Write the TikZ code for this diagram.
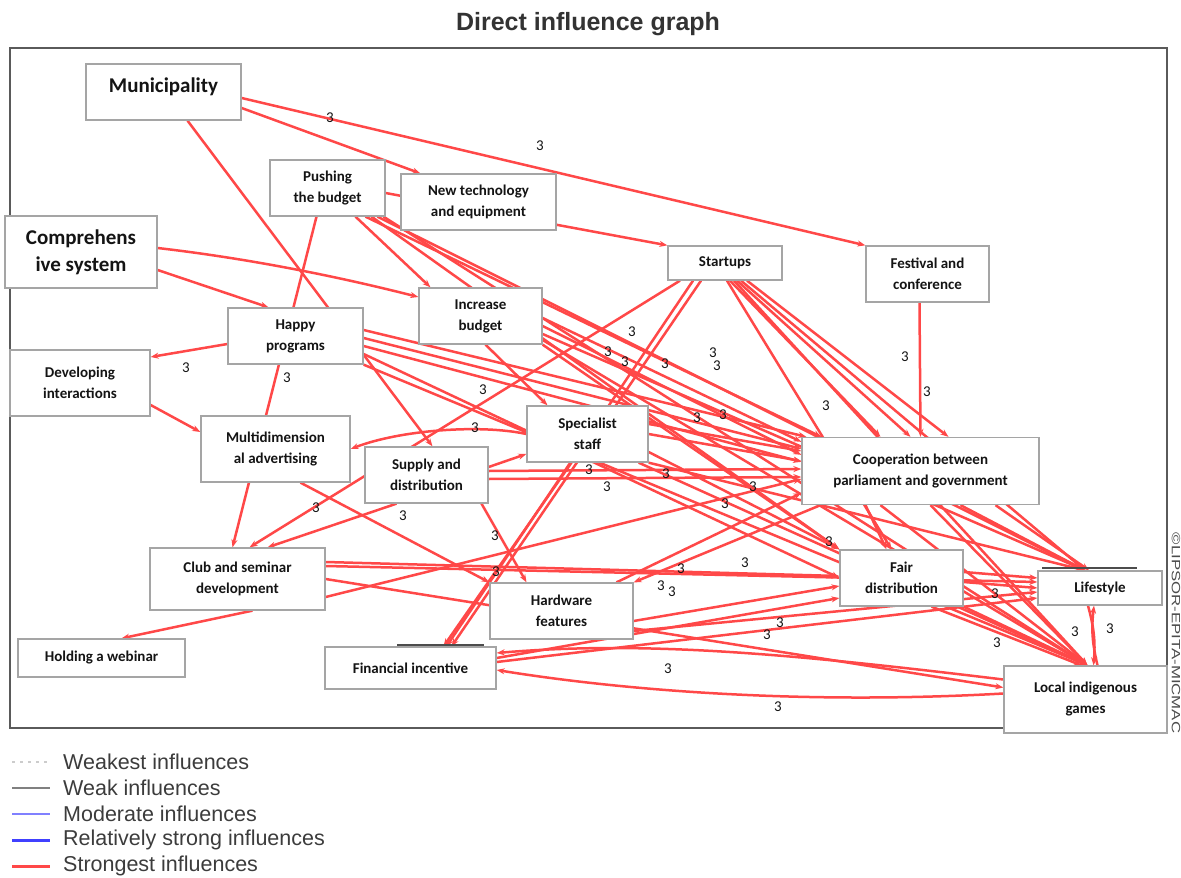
\documentclass[tikz,border=0pt]{standalone}
\usepackage{fontspec}
\setmainfont{Carlito}
\newfontfamily\arialf{Liberation Sans}
\usetikzlibrary{arrows.meta}
\pgfdeclarelayer{bg}
\pgfsetlayers{bg,main}
\definecolor{infred}{RGB}{255,72,72}
\definecolor{framegray}{RGB}{90,90,90}
\definecolor{boxgray}{RGB}{165,165,165}
\definecolor{txt}{RGB}{20,20,20}
\definecolor{legtxt}{RGB}{60,60,60}
\begin{document}
\begin{tikzpicture}[x=1pt,y=-1pt,
  box/.style={draw=boxgray, line width=1.3pt, fill=white, align=center, inner sep=0pt, text=txt, font=\bfseries\fontsize{15}{21}\selectfont},
  big/.style={font=\bfseries\fontsize{21}{27}\selectfont},
  inf/.style={draw=infred, line width=2.5pt, -{Stealth[length=8pt,width=6pt]}},
  lab/.style={font=\fontsize{15}{15}\selectfont, text=txt, inner sep=0pt},
  legtext/.style={font=\arialf\fontsize{21.5}{21.5}\selectfont, text=legtxt, anchor=west, inner sep=0pt}]
\useasboundingbox (0,0) rectangle (1181,878);

% title
\node[font=\arialf\bfseries\fontsize{25}{25}\selectfont, text=black!80] (title) at (588,24) {Direct influence graph};

% nodes
\node[box, big, minimum width=155pt, minimum height=56pt] (muni) at (163.5,92) {\raisebox{0pt}[0pt][0pt]{Municipality}};
\node[box, minimum width=115pt, minimum height=56pt] (push) at (327.5,188) {Pushing\\the budget};
\node[box, minimum width=155pt, minimum height=56pt] (newtech) at (478.5,202) {New technology\\and equipment};
\node[box, big, minimum width=152pt, minimum height=72pt] (comp) at (81,252) {Comprehens\\ive system};
\node[box, minimum width=114pt, minimum height=34pt] (startups) at (725,263) {Startups};
\node[box, minimum width=123pt, minimum height=56pt] (festival) at (927.5,274) {Festival and\\conference};
\node[box, minimum width=123pt, minimum height=56pt] (incbud) at (480.5,316) {Increase\\budget};
\node[box, minimum width=135pt, minimum height=56pt] (happy) at (295.5,336) {Happy\\programs};
\node[box, minimum width=140pt, minimum height=66pt] (devint) at (80,383) {Developing\\interactions};
\node[box, minimum width=149pt, minimum height=66pt] (multi) at (275.5,449) {Multidimension\\al advertising};
\node[box, minimum width=121pt, minimum height=56pt] (spec) at (587.5,434) {Specialist\\staff};
\node[box, minimum width=123pt, minimum height=56pt] (supply) at (426.5,475) {Supply and\\distribution};
\node[box, minimum width=237pt, minimum height=67pt] (coop) at (920.5,471) {Cooperation between\\parliament and government};
\node[box, minimum width=175pt, minimum height=62pt] (club) at (237.5,579) {Club and seminar\\development};
\node[box, minimum width=123pt, minimum height=56pt] (fair) at (901.5,578) {Fair\\distribution};
\node[box, minimum width=124pt, minimum height=34pt] (life) at (1100,588) {Lifestyle};
\node[box, minimum width=143pt, minimum height=56pt] (hard) at (561.5,611) {Hardware\\features};
\node[box, minimum width=167pt, minimum height=38pt] (webinar) at (101.5,658) {Holding a webinar};
\node[box, minimum width=171pt, minimum height=42pt] (fin) at (410.5,668) {Financial incentive};
\node[box, minimum width=163pt, minimum height=67pt] (local) at (1085.5,699.5) {Local indigenous\\games};

\coordinate (lifeIn) at ([xshift=-15pt]life.north);
\coordinate (localIn) at ([xshift=2pt]local.north);

% dark marks above two boxes
\draw[black!70, line width=2pt] (1042,568) -- (1137,568);
\draw[black!70, line width=2pt] (397,644.5) -- (484,644.5);

\begin{pgfonlayer}{bg}
\fill[white] (0,0) rectangle (1181,878);
\draw[framegray, line width=2.5pt] (10,48) rectangle (1167,728);
% Municipality
\draw[inf] ([yshift=-6pt]muni.east) -- (festival.north west);
\draw[inf] ([yshift=-16pt]muni.east) -- ([xshift=20pt]newtech.north west);
\draw[inf] ([xshift=24pt]muni.south) -- ([xshift=6pt]supply.north);
% Pushing the budget
\draw[inf] ([yshift=-5pt]push.east) -- (startups.north west);
\draw[inf] ([xshift=-11pt]push.south) -- ([xshift=-5pt]club.north);
\draw[inf] ([xshift=28pt]push.south) -- ([xshift=-50pt]incbud.north);
\draw[inf] ([xshift=38pt]push.south) -- ([xshift=20pt]coop.north west);
\draw[inf] ([xshift=44pt]push.south) -- (fair.north west);
\draw[inf] ([xshift=50pt]push.south) -- (lifeIn);
\draw[inf] ([xshift=56pt]push.south) -- (localIn);
% Comprehensive system
\draw[inf] ([yshift=4pt]comp.east) .. controls (244,258) and (332,275) .. ([yshift=19pt]incbud.west);
\draw[inf] ([yshift=-18pt]comp.east) -- ([xshift=-27pt]happy.north);
% Happy programs
\draw[inf] ([yshift=-8pt]happy.west) -- ([yshift=26pt]devint.east);
\draw[inf] ([yshift=6pt]happy.east) -- ([xshift=5pt]coop.north west);
\draw[inf] ([yshift=-2pt]happy.east) -- ([yshift=-12pt]coop.north west);
\draw[inf] ([yshift=-10pt]happy.east) -- ([yshift=-25pt]coop.north west);
\draw[inf] ([yshift=-18pt]happy.east) -- (fair.west);
\draw[inf] (happy.south east) -- (localIn);
% Developing interactions
\draw[inf] ([yshift=-22pt]devint.east) -- ([yshift=17pt]multi.west);
% Increase budget
\draw[inf] ([xshift=5pt]incbud.south) -- ([xshift=-40pt]spec.north);
\draw[inf] ([yshift=-2pt]incbud.east) -- ([yshift=-5pt]coop.north west);
\draw[inf] ([yshift=-10pt]incbud.east) -- ([yshift=-18pt]coop.north west);
\draw[inf] (incbud.south east) -- (fair.north west);
\draw[inf] ([yshift=-18pt]incbud.east) -- (lifeIn);
\draw[inf] ([yshift=-24pt]incbud.east) -- (localIn);
% Startups
\draw[inf] ([xshift=-45pt]startups.south) -- ([xshift=12pt]club.north);
\draw[inf] ([xshift=-32pt]startups.south) -- ([xshift=36pt]fin.north);
\draw[inf] ([xshift=-24pt]startups.south) -- ([xshift=41pt]fin.north);
\draw[inf] ([xshift=5pt]startups.south) -- ([xshift=-40pt]coop.north);
\draw[inf] ([xshift=12pt]startups.south) -- ([xshift=-10pt]coop.north);
\draw[inf] ([xshift=22pt]startups.south) -- ([xshift=28pt]coop.north);
\draw[inf] ([xshift=16pt]startups.south) -- (lifeIn);
\draw[inf] ([xshift=9pt]startups.south) -- (localIn);
\draw[inf] ([xshift=2pt]startups.south) -- ([xshift=-10pt]fair.north);
% Festival
\draw[inf] ([xshift=-8pt]festival.south) -- (coop.north);
% Specialist staff
\draw[inf] (spec.west) .. controls (480,424) and (400,430) .. (multi.east);
\draw[inf] ([xshift=-16pt]spec.south) -- ([xshift=33pt]fin.north);
\draw[inf] ([yshift=10pt]spec.east) -- ([yshift=20pt]coop.west);
\draw[inf] (spec.east) -- ([yshift=10pt]coop.west);
\draw[inf] ([yshift=-18pt]spec.east) -- (fair.north west);
\draw[inf] (spec.south east) -- (lifeIn);
\draw[inf] ([xshift=-10pt]spec.south east) -- (localIn);
% Supply and distribution
\draw[inf] ([yshift=8pt]supply.east) -- ([yshift=-20pt]spec.west);
\draw[inf] ([xshift=55pt]supply.south) -- ([xshift=-35pt]hard.north);
\draw[inf] ([xshift=-30pt]supply.south) -- ([xshift=30pt]club.north);
\draw[inf] ([yshift=4pt]supply.east) -- ([yshift=2pt]coop.west);
\draw[inf] ([yshift=-4pt]supply.east) -- ([yshift=-6pt]coop.west);
% Multidimensional advertising
\draw[inf] ([xshift=25pt]multi.south) -- (hard.north west);
% Club
\draw[inf] ([xshift=15pt]club.south) -- ([xshift=20pt]webinar.north);
\draw[inf] ([yshift=17pt]club.east) -- ([yshift=2pt]fair.west);
\draw[inf] ([yshift=13pt]club.east) -- ([yshift=6pt]life.west);
\draw[inf] (club.east) -- ([yshift=12pt]local.west);
\draw[inf] ([yshift=-18pt]club.east) -- ([yshift=-8pt]coop.west);
% Hardware
\draw[inf] ([xshift=55pt]hard.north) -- ([yshift=-22pt]coop.west);
\draw[inf] ([yshift=-10pt]hard.east) -- ([yshift=-8pt]fair.west);
\draw[inf] ([yshift=-20pt]hard.east) -- ([yshift=-4pt]life.west);
% Financial incentive
\draw[inf] ([yshift=10pt]fin.east) -- ([yshift=-20pt]fair.west);
\draw[inf] ([yshift=6pt]fin.east) -- ([yshift=-10pt]life.west);
% Local games to financial incentive
\draw[inf] ([yshift=20pt]local.west) .. controls (800,655) and (650,640) .. ([yshift=15pt]fin.east);
\draw[inf] ([yshift=6pt]local.west) .. controls (800,705) and (620,690) .. ([yshift=-2pt]fin.east);
% Cooperation
\draw[inf] ([xshift=40pt]coop.south) -- (lifeIn);
\draw[inf] ([xshift=75pt]coop.south) -- ([xshift=4pt]lifeIn);
\draw[inf] ([xshift=-40pt]coop.south) -- (localIn);
\draw[inf] ([xshift=10pt]coop.south) -- (localIn);
\draw[inf] ([xshift=-55pt]coop.south) -- ([xshift=-15pt]fair.north);
\draw[inf] ([xshift=-100pt]coop.south) -- (hard.north east);
% Fair distribution
\draw[inf] ([yshift=6pt]fair.east) -- ([yshift=10pt]life.west);
\draw[inf] ([yshift=-4pt]fair.east) -- (life.west);
\draw[inf] (fair.south east) -- (localIn);
\draw[inf] ([xshift=30pt]fair.south) -- ([xshift=-6pt]localIn);
% Lifestyle <-> Local games
\draw[inf] ([xshift=-12pt]life.south) to[bend left=10] ([xshift=8pt]local.north);
\draw[inf] ([xshift=12pt]local.north) to[bend left=10] ([xshift=-6pt]life.south);
\end{pgfonlayer}

% influence values
\foreach \x/\y [count=\i] in {330/118, 540/146, 186/368, 287/378, 632/332, 608/352, 625/362, 665/364, 713/353, 717/366, 483/390, 475/428, 697/418, 723/415, 826/406, 905/357, 927/392, 589/470, 607/487, 666/474, 753/487, 725/504, 316/508, 403/516, 495/536, 496/572, 829/542, 681/569, 745/563, 661/586, 672/592, 995/594, 780/623, 767/635, 997/643, 1075/632, 1110/629, 668/669, 778/707}
  \node[lab] (v\i) at (\x,\y) {3};

% copyright
\node[rotate=-90, font=\arialf\fontsize{12}{12}\selectfont, text=black!70, inner sep=0pt] (copy) at (1176,633) {\scalebox{1.4}[1]{©LIPSOR-EPITA-MICMAC}};

% legend
\draw[gray!40, line width=1.5pt, dash pattern=on 3pt off 5pt] (12,762) -- (50,762);
\draw[gray, line width=2.5pt] (12,788) -- (50,788);
\draw[blue!50, line width=2pt] (12,814) -- (50,814);
\draw[blue!75, line width=3pt] (12,840) -- (50,840);
\draw[infred, line width=3pt] (12,866) -- (50,866);
\node[legtext] (lg1) at (63,762) {Weakest influences};
\node[legtext] (lg2) at (63,788) {Weak influences};
\node[legtext] (lg3) at (63,814) {Moderate influences};
\node[legtext] (lg4) at (63,840) {Relatively strong influences};
\node[legtext] (lg5) at (63,866) {Strongest influences};
\end{tikzpicture}
\end{document}
